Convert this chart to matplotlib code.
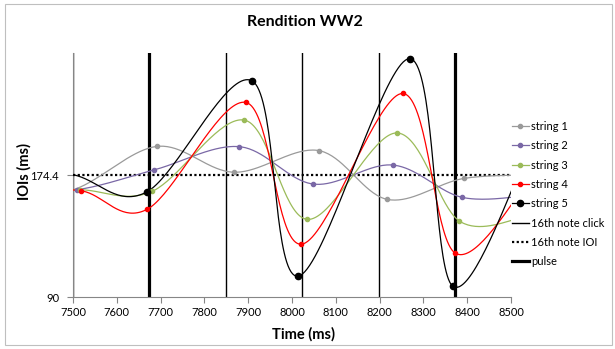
import numpy as np
import matplotlib
matplotlib.use('Agg')
import matplotlib.pyplot as plt
from matplotlib.lines import Line2D
from matplotlib.patches import Rectangle

plt.rcParams['font.family'] = ['Lato', 'DejaVu Sans']

# onset times (ms) and IOIs (ms) per string, first/last points lie just outside the view
s1_time = [7334, 7498, 7692, 7868, 8061, 8218, 8392, 8566]
s1_ioi = [164.0, 164.0, 194.2, 176.3, 191.3, 157.5, 172.0, 174.5]
s2_time = [7344, 7508, 7686, 7880, 8049, 8230, 8389, 8549]
s2_ioi = [164.2, 164.2, 178.0, 194.0, 168.1, 181.3, 158.9, 160.5]
s3_time = [7352, 7516, 7680, 7891, 8035, 8239, 8382, 8528]
s3_ioi = [164.2, 164.2, 163.0, 212.4, 143.7, 203.5, 142.6, 145.0]
s4_time = [7354, 7518, 7670, 7895, 8021, 8253, 8372, 8545]
s4_ioi = [164.0, 163.5, 150.8, 224.6, 126.5, 230.8, 120.5, 172.0]
s5_time = [7300, 7497, 7668, 7909, 8014, 8269, 8367, 8542]
s5_ioi = [182.0, 174.8, 162.6, 239.5, 104.4, 254.9, 97.5, 192.0]

click_times = [7500, 7674.4, 7848.8, 8023.2, 8197.6, 8372.0]
pulse_times = [7674.4, 8372.0]
ioi_16th = 174.4

string_names = ['string 1', 'string 2', 'string 3', 'string 4', 'string 5']
string_colors = ['#9a9a9a', '#7a68a6', '#9bbb59', '#ff0000', '#000000']

XMIN, XMAX = 7500, 8500
YMIN, YMAX = 90, 258.8


def smooth(xs, ys, n=40):
    # excel-like smoothed line (catmull-rom as bezier)
    p = np.column_stack([xs, ys]).astype(float)
    p = np.vstack([p[0], p, p[-1]])
    segs = []
    t = np.linspace(0, 1, n)[:, None]
    for i in range(1, len(p) - 2):
        p0, p1, p2, p3 = p[i-1], p[i], p[i+1], p[i+2]
        c1 = p1 + (p2 - p0) / 6
        c2 = p2 - (p3 - p1) / 6
        segs.append((1-t)**3*p1 + 3*(1-t)**2*t*c1 + 3*(1-t)*t**2*c2 + t**3*p2)
    seg = np.vstack(segs)
    return seg[:, 0], seg[:, 1]


fig = plt.figure(figsize=(6.15, 3.49), dpi=100)
ax = fig.add_axes([73/615, 1-297/349, (511-73)/615, (297-53)/349])

for x in click_times:
    ax.axvline(x, color='black', lw=1.0, zorder=2)
for x in pulse_times:
    ax.axvline(x, color='black', lw=2.3, zorder=2)
ax.axhline(ioi_16th, color='black', lw=1.6, linestyle=(0, (1, 1.1)), zorder=3)

series = [(s1_time, s1_ioi), (s2_time, s2_ioi), (s3_time, s3_ioi),
          (s4_time, s4_ioi), (s5_time, s5_ioi)]
for i, (tt, vv) in enumerate(series):
    col = string_colors[i]
    sx, sy = smooth(tt, vv)
    ax.plot(sx, sy, color=col, lw=0.9, zorder=4)
    tt = np.array(tt)
    vv = np.array(vv)
    m = (tt >= XMIN) & (tt <= XMAX)
    ms = 4.5 if i == 4 else 3
    ax.plot(tt[m], vv[m], 'o', color=col, ms=ms, zorder=5)

ax.set_xlim(XMIN, XMAX)
ax.set_ylim(YMIN, YMAX)
ax.set_xticks(np.arange(7500, 8501, 100))
ax.set_yticks([90, ioi_16th])
ax.set_yticklabels(['90', '174.4'])
for s in ['top', 'right']:
    ax.spines[s].set_visible(False)
for s in ['left', 'bottom']:
    ax.spines[s].set_color('#868686')
    ax.spines[s].set_linewidth(0.8)
ax.tick_params(axis='x', direction='out', length=4, color='#868686', labelsize=8, pad=3)
ax.tick_params(axis='y', direction='out', length=4, color='#868686', labelsize=8, pad=6)

fig.text(0.496, 1-22/349, 'Rendition WW2', ha='center', va='center',
         fontsize=11.5, fontweight='bold')
fig.text(303/615, 1-334/349, 'Time (ms)', ha='center', va='center',
         fontsize=10.5, fontweight='bold')
fig.text(24/615, 1-172/349, 'IOIs (ms)', ha='center', va='center',
         fontsize=10.5, fontweight='bold', rotation=90)

handles = []
for i in range(5):
    handles.append(Line2D([], [], color=string_colors[i], lw=0.9, marker='o',
                          ms=4.5 if i == 4 else 3))
handles.append(Line2D([], [], color='black', lw=1.0))
handles.append(Line2D([], [], color='black', lw=1.6, linestyle=(0, (1, 1.1))))
handles.append(Line2D([], [], color='black', lw=2.3))
labels = string_names + ['16th note click', '16th note IOI', 'pulse']
fig.legend(handles, labels, loc='upper left', bbox_to_anchor=(512/615, 1-121/349),
           frameon=False, fontsize=8, handlelength=1.5, handletextpad=0.2,
           labelspacing=0.75, borderpad=0, borderaxespad=0)

fig.add_artist(Rectangle((5/615, 1-345/349), 607/615, 341/349, transform=fig.transFigure,
                         fill=False, edgecolor='#bfbfbf', lw=0.8))

fig.savefig('out.png', dpi=100)
